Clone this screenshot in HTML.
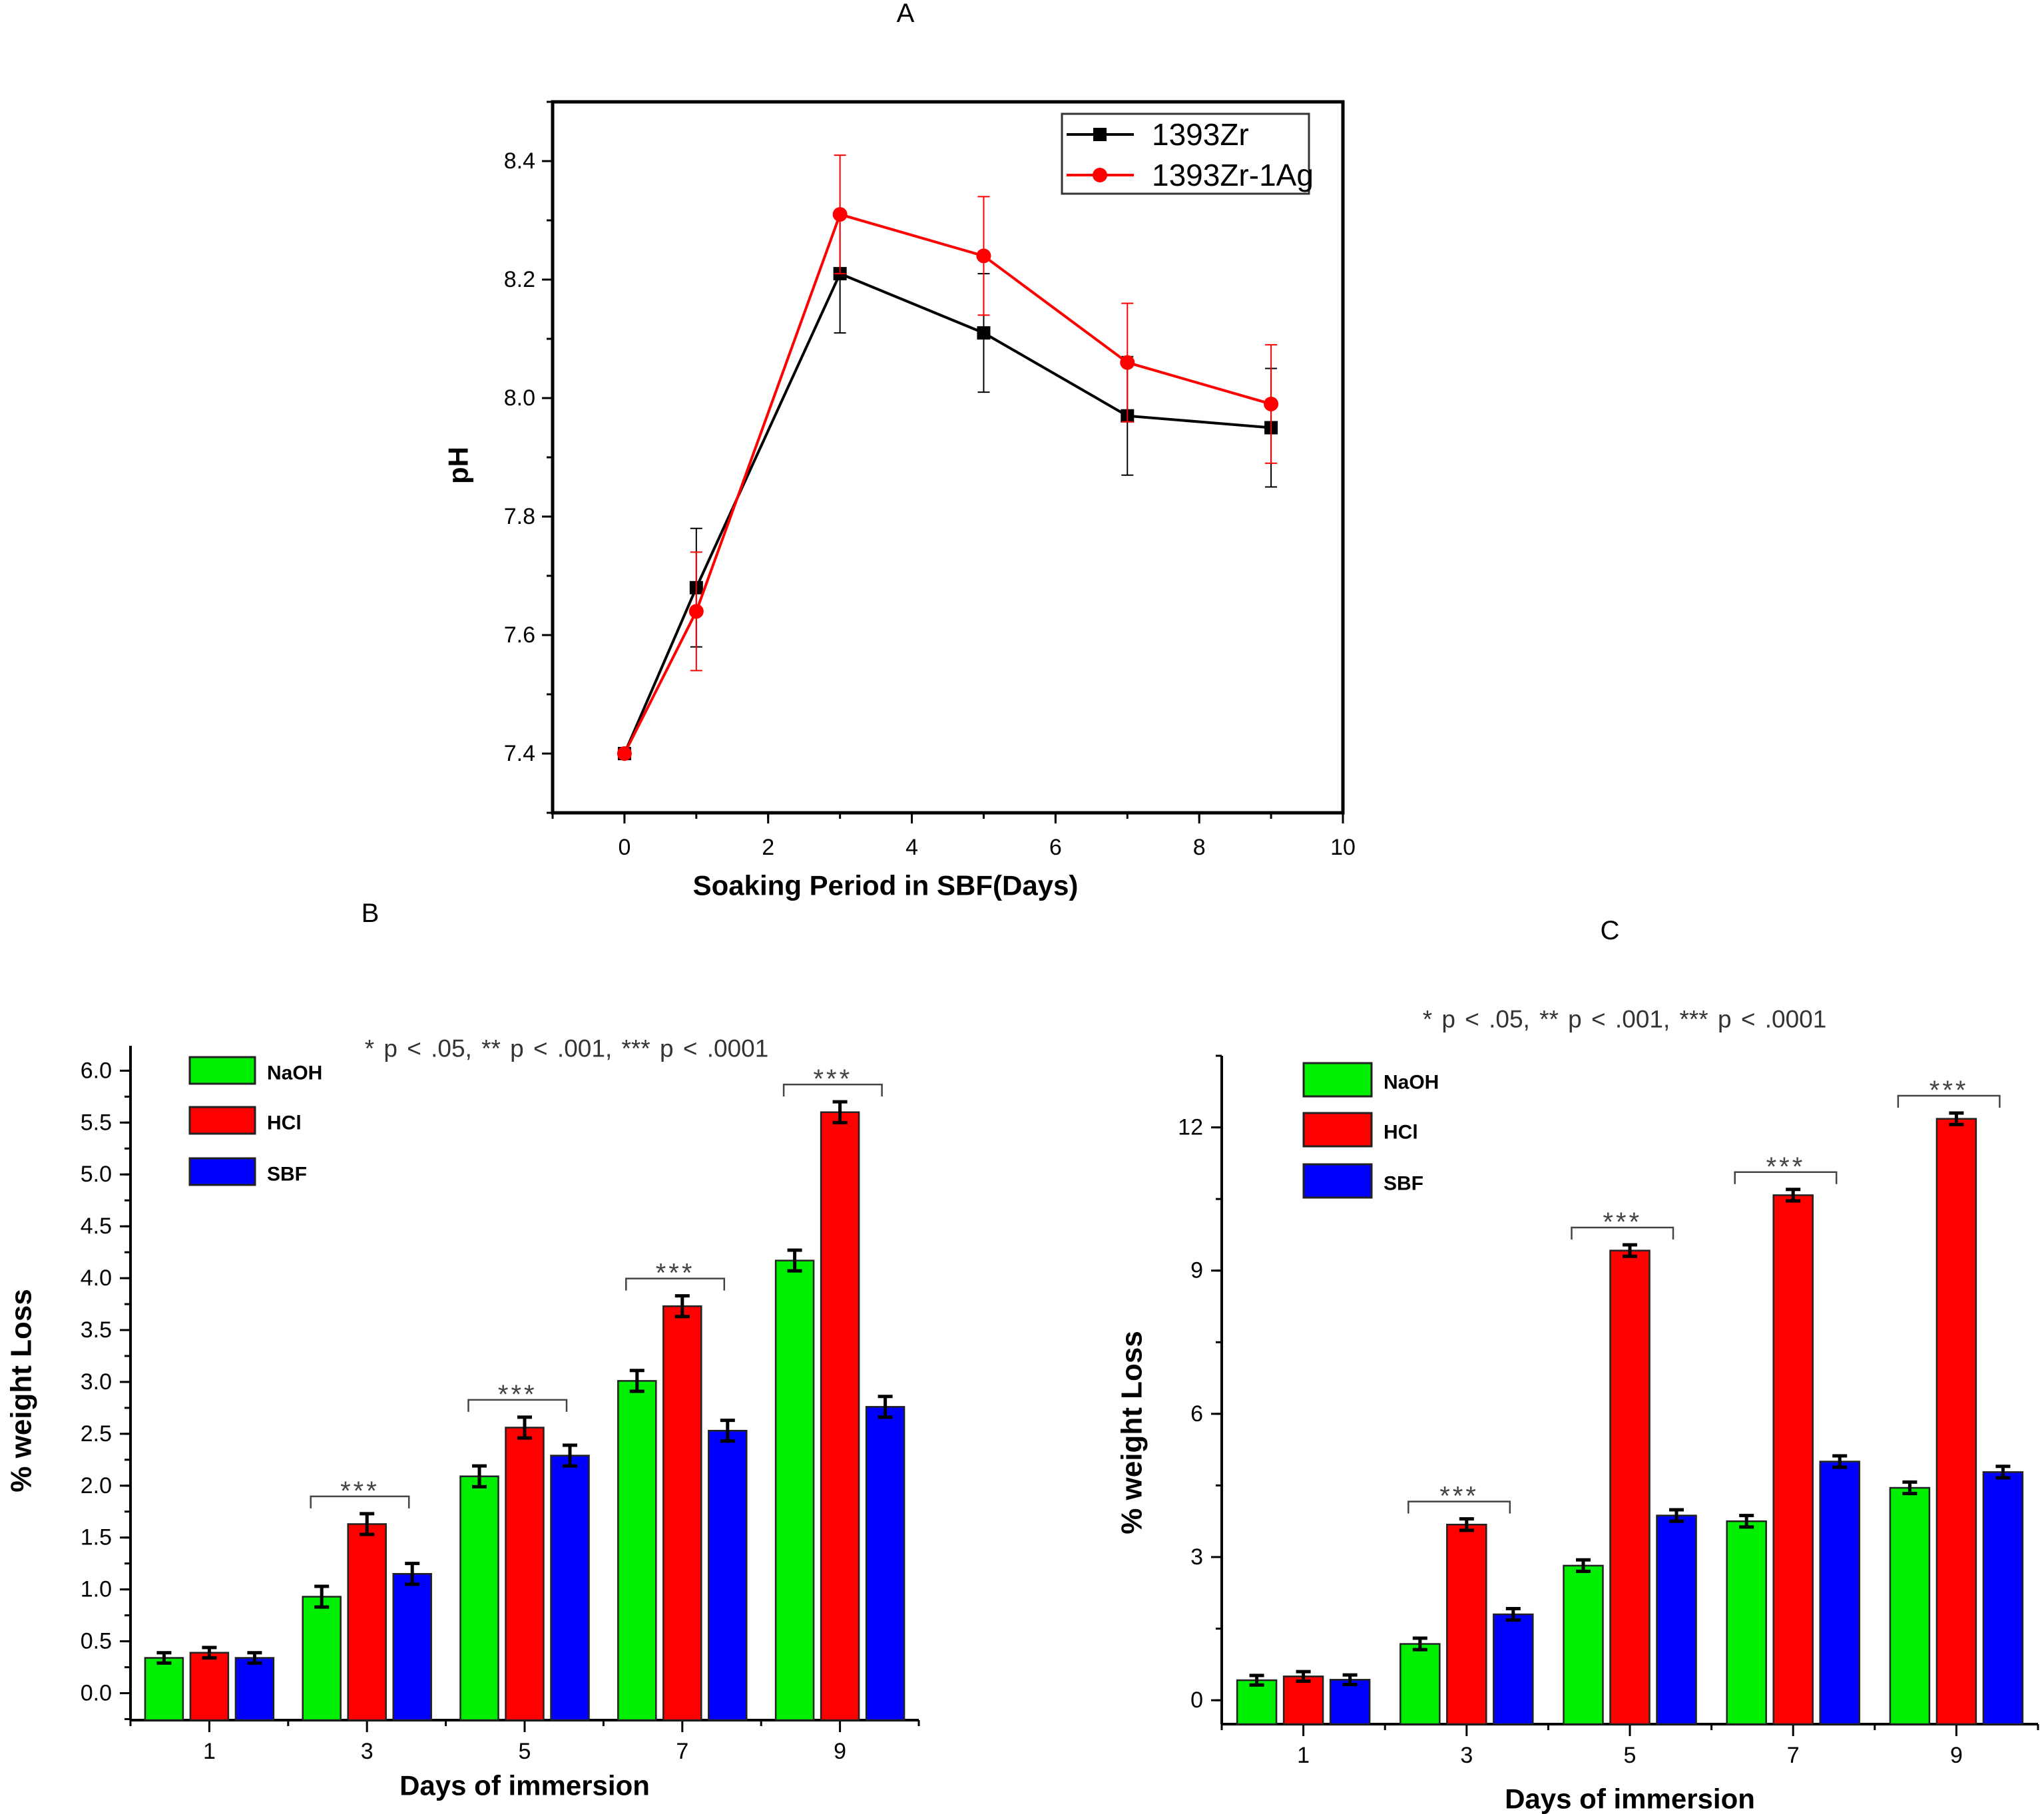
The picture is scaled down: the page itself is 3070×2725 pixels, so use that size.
<!DOCTYPE html>
<html><head><meta charset="utf-8"><style>
html,body{margin:0;padding:0;background:#fff;}
svg{display:block;font-family:"Liberation Sans",sans-serif;}
</style></head><body>
<svg id="fig" width="3070" height="2725" viewBox="0 0 3070 2725" xmlns="http://www.w3.org/2000/svg"></svg>
<script>
// ---- Panel A data ----
const aDays = [0, 1, 3, 5, 7, 9];
const aZr = [7.40, 7.68, 8.21, 8.11, 7.97, 7.95];
const aZrErr = [0, 0.10, 0.10, 0.10, 0.10, 0.10];
const aAg = [7.40, 7.64, 8.31, 8.24, 8.06, 7.99];
const aAgErr = [0, 0.10, 0.10, 0.10, 0.10, 0.10];
const aXTicks = [0, 2, 4, 6, 8, 10];
const aYTicks = [7.4, 7.6, 7.8, 8.0, 8.2, 8.4];
// ---- Panel B data ----
const bCats = ["1", "3", "5", "7", "9"];
const bNaOH = [0.34, 0.93, 2.09, 3.01, 4.17];
const bHCl = [0.39, 1.63, 2.56, 3.73, 5.60];
const bSBF = [0.34, 1.15, 2.29, 2.53, 2.76];
const bErr = [0.05, 0.10, 0.10, 0.10, 0.10];
const bYTicks = ["0.0","0.5","1.0","1.5","2.0","2.5","3.0","3.5","4.0","4.5","5.0","5.5","6.0"];
const bSig = [1, 2, 3, 4];
// ---- Panel C data ----
const cCats = ["1", "3", "5", "7", "9"];
const cNaOH = [0.42, 1.18, 2.82, 3.75, 4.45];
const cHCl = [0.50, 3.68, 9.42, 10.58, 12.18];
const cSBF = [0.43, 1.80, 3.87, 5.00, 4.78];
const cErr = [0.10, 0.12, 0.12, 0.12, 0.12];
const cYTicks = ["0", "3", "6", "9", "12"];
const cSig = [1, 2, 3, 4];

const svg = document.getElementById('fig');
const NS = 'http://www.w3.org/2000/svg';
function mk(tag, attrs, parent) {
  const e = document.createElementNS(NS, tag);
  for (const k in attrs) e.setAttribute(k, attrs[k]);
  (parent || svg).appendChild(e);
  return e;
}
function txt(s, x, y, size, opts, parent) {
  const t = mk('text', Object.assign({x: x, y: y, 'font-size': size, 'text-anchor': 'middle', 'dominant-baseline': 'central', fill: '#000'}, opts || {}), parent);
  t.textContent = s;
  return t;
}

// ================= Panel A =================
const gA = mk('g', {});


const A = {l: 830, r: 2017, t: 153, b: 1221, x0: -1, x1: 10, y0: 7.3, y1: 8.5};
const ax = v => A.l + (v - A.x0) / (A.x1 - A.x0) * (A.r - A.l);
const ay = v => A.b - (v - A.y0) / (A.y1 - A.y0) * (A.b - A.t);
const titleA = txt('A', 1360, 20, 40, {}, gA);


const frameA = mk('rect', {x: A.l, y: A.t, width: A.r - A.l, height: A.b - A.t, fill: 'none', stroke: '#000', 'stroke-width': 5}, gA);


aXTicks.forEach(v => {
  mk('line', {x1: ax(v), x2: ax(v), y1: A.b, y2: A.b + 16, stroke: '#000', 'stroke-width': 3}, gA);
  const t = txt(String(v), ax(v), 1273, 34, {}, gA);
  
  
});
for (let v = -1; v <= 10; v++) mk('line', {x1: ax(v), x2: ax(v), y1: A.b, y2: A.b + 9, stroke: '#000', 'stroke-width': 3}, gA);
aYTicks.forEach(v => {
  mk('line', {x1: A.l - 16, x2: A.l, y1: ay(v), y2: ay(v), stroke: '#000', 'stroke-width': 3}, gA);
  const t = txt(v.toFixed(1), A.l - 26, ay(v), 34, {'text-anchor': 'end'}, gA);
  
  
});
for (let v = 7.3; v <= 8.51; v += 0.1) mk('line', {x1: A.l - 9, x2: A.l, y1: ay(v), y2: ay(v), stroke: '#000', 'stroke-width': 3}, gA);
const xtA = txt('Soaking Period in SBF(Days)', 1330, 1330, 42, {'font-weight': 'bold'}, gA);


const ytA = txt('pH', 688, 699, 42, {'font-weight': 'bold', transform: 'rotate(-90 688 699)'}, gA);



function series(vals, errs, color, marker, name) {
  const g = mk('g', {}, gA);
  
  
  vals.forEach((v, i) => {
    if (errs[i] > 0) {
      const x = ax(aDays[i]);
      mk('line', {x1: x, x2: x, y1: ay(v + errs[i]), y2: ay(v - errs[i]), stroke: color, 'stroke-width': 2}, g);
      mk('line', {x1: x - 9, x2: x + 9, y1: ay(v + errs[i]), y2: ay(v + errs[i]), stroke: color, 'stroke-width': 2}, g);
      mk('line', {x1: x - 9, x2: x + 9, y1: ay(v - errs[i]), y2: ay(v - errs[i]), stroke: color, 'stroke-width': 2}, g);
    }
  });
  mk('polyline', {points: vals.map((v, i) => ax(aDays[i]) + ',' + ay(v)).join(' '), fill: 'none', stroke: color, 'stroke-width': 4}, g);
  vals.forEach((v, i) => {
    let m;
    if (marker === 'square') m = mk('rect', {x: ax(aDays[i]) - 10, y: ay(v) - 10, width: 20, height: 20, fill: color}, g);
    else m = mk('circle', {cx: ax(aDays[i]), cy: ay(v), r: 11, fill: color}, g);
    
    
  });
}
series(aZr, aZrErr, '#000', 'square', 'series-1393zr');
series(aAg, aAgErr, '#f00', 'circle', 'series-1393zr-1ag');

const legA = mk('g', {}, gA);


mk('rect', {x: 1595, y: 171, width: 371, height: 120, fill: '#fff', stroke: '#333', 'stroke-width': 3}, legA);
mk('line', {x1: 1602, x2: 1703, y1: 202, y2: 202, stroke: '#000', 'stroke-width': 4}, legA);
mk('rect', {x: 1642, y: 192, width: 20, height: 20, fill: '#000'}, legA);
const l1 = txt('1393Zr', 1730, 202, 46, {'text-anchor': 'start'}, legA);


mk('line', {x1: 1602, x2: 1703, y1: 263, y2: 263, stroke: '#f00', 'stroke-width': 4}, legA);
mk('circle', {cx: 1652, cy: 263, r: 11, fill: '#f00'}, legA);
const l2 = txt('1393Zr-1Ag', 1730, 263, 46, {'text-anchor': 'start'}, legA);



// ================= Bar panels =================
function barPanel(cfg) {
  const g = mk('g', {});
  
  
  const P = cfg.P;
  const y = v => P.b - (v - P.y0) / (P.y1 - P.y0) * (P.b - P.t);
  const bin = (P.r - P.l) / cfg.cats.length;
  const cx = i => P.l + bin * (i + 0.5);
  const title = txt(cfg.title, cfg.titleX, cfg.titleY, 40, {}, g);
  
  
  mk('line', {x1: P.l, x2: P.l, y1: P.t, y2: P.b, stroke: '#000', 'stroke-width': 4}, g);
  mk('line', {x1: P.l, x2: P.r, y1: P.b, y2: P.b, stroke: '#000', 'stroke-width': 4}, g);
  cfg.yTicks.forEach(s => {
    const v = parseFloat(s);
    mk('line', {x1: P.l - 16, x2: P.l, y1: y(v), y2: y(v), stroke: '#000', 'stroke-width': 3}, g);
    const t = txt(s, P.l - 28, y(v), 34, {'text-anchor': 'end'}, g);
    
    
  });
  for (let v = cfg.minorStart; v <= P.y1; v += cfg.minor) mk('line', {x1: P.l - 9, x2: P.l, y1: y(v), y2: y(v), stroke: '#000', 'stroke-width': 3}, g);
  for (let i = 0; i <= cfg.cats.length; i++) mk('line', {x1: P.l + bin * i, x2: P.l + bin * i, y1: P.b, y2: P.b + 9, stroke: '#000', 'stroke-width': 3}, g);
  cfg.cats.forEach((c, i) => {
    mk('line', {x1: cx(i), x2: cx(i), y1: P.b, y2: P.b + 18, stroke: '#000', 'stroke-width': 3}, g);
    const t = txt(c, cx(i), cfg.tickY, 34, {}, g);
    
    
  });
  const xt = txt('Days of immersion', (P.l + P.r) / 2, cfg.xTitleY, 42, {'font-weight': 'bold'}, g);
  
  
  const yt = txt('% weight Loss', cfg.yTitleX, cfg.yTitleY, 44, {'font-weight': 'bold', transform: 'rotate(-90 ' + cfg.yTitleX + ' ' + cfg.yTitleY + ')'}, g);
  
  
  const series = [[cfg.naoh, '#00ee00', 'naoh'], [cfg.hcl, '#ff0000', 'hcl'], [cfg.sbf, '#0000ff', 'sbf']];
  series.forEach((s, k) => {
    s[0].forEach((v, i) => {
      const x = cx(i) + (k - 1) * cfg.pitch - cfg.bw / 2;
      const r = mk('rect', {x: x, y: y(v), width: cfg.bw, height: P.b - y(v), fill: s[1], stroke: '#222', 'stroke-width': 2.5}, g);
      
      
      const e = cfg.err[i], m = x + cfg.bw / 2;
      mk('line', {x1: m, x2: m, y1: y(v + e), y2: y(v - e), stroke: '#000', 'stroke-width': 5}, g);
      mk('line', {x1: m - 11, x2: m + 11, y1: y(v + e), y2: y(v + e), stroke: '#000', 'stroke-width': 5}, g);
      mk('line', {x1: m - 11, x2: m + 11, y1: y(v - e), y2: y(v - e), stroke: '#000', 'stroke-width': 5}, g);
    });
  });
  cfg.sig.forEach(i => {
    const top = Math.max(cfg.naoh[i], cfg.hcl[i], cfg.sbf[i]) + cfg.err[i];
    const by = y(top) - cfg.gap;
    const x1 = cx(i) - cfg.pitch - cfg.bw / 2 + 12, x2 = cx(i) + cfg.pitch - 5;
    const p = mk('path', {d: 'M' + x1 + ' ' + (by + 18) + ' V' + by + ' H' + x2 + ' V' + (by + 18), fill: 'none', stroke: '#444', 'stroke-width': 2.5}, g);
    
    
    txt('***', (x1 + x2) / 2, by - 8, 40, {fill: '#444', 'letter-spacing': 4}, g);
  });
  const pt = txt('* p < .05,  **  p < .001,  *** p < .0001', cfg.pX, cfg.pY, 37, {fill: '#333', 'xml:space': 'preserve', 'word-spacing': 4}, g);
  
  
  const leg = mk('g', {}, g);
  
  
  [['NaOH', '#00ee00'], ['HCl', '#ff0000'], ['SBF', '#0000ff']].forEach((e, k) => {
    const ly = cfg.legY[k];
    mk('rect', {x: cfg.legX, y: ly, width: cfg.legW, height: cfg.legH, fill: e[1], stroke: '#222', 'stroke-width': 3}, leg);
    const t = txt(e[0], cfg.legX + cfg.legW + 18, ly + cfg.legH / 2 + 4, 30, {'text-anchor': 'start', 'font-weight': 'bold'}, leg);
    
    
  });
}

barPanel({
  name: 'weight-loss-chart-b', title: 'B', titleX: 556, titleY: 1372,
  P: {l: 196, r: 1380, t: 1571, b: 2584, y0: -0.26, y1: 6.24},
  cats: bCats, naoh: bNaOH, hcl: bHCl, sbf: bSBF, err: bErr, yTicks: bYTicks,
  minor: 0.25, minorStart: -0.25, sig: bSig, bw: 57, pitch: 68, gap: 26,
  tickY: 2631, xTitleY: 2682, yTitleX: 32, yTitleY: 2089,
  pX: 851, pY: 1575, legX: 285, legY: [1588, 1663, 1740], legW: 98, legH: 40
});
barPanel({
  name: 'weight-loss-chart-c', title: 'C', titleX: 2418, titleY: 1398,
  P: {l: 1835, r: 3061, t: 1586, b: 2590, y0: -0.5, y1: 13.5},
  cats: cCats, naoh: cNaOH, hcl: cHCl, sbf: cSBF, err: cErr, yTicks: cYTicks,
  minor: 1.5, minorStart: 0, sig: cSig, bw: 59, pitch: 70, gap: 26,
  tickY: 2637, xTitleY: 2702, yTitleX: 1700, yTitleY: 2152,
  pX: 2440, pY: 1531, legX: 1958, legY: [1597, 1672, 1749], legW: 102, legH: 50
});
</script>
</body></html>
